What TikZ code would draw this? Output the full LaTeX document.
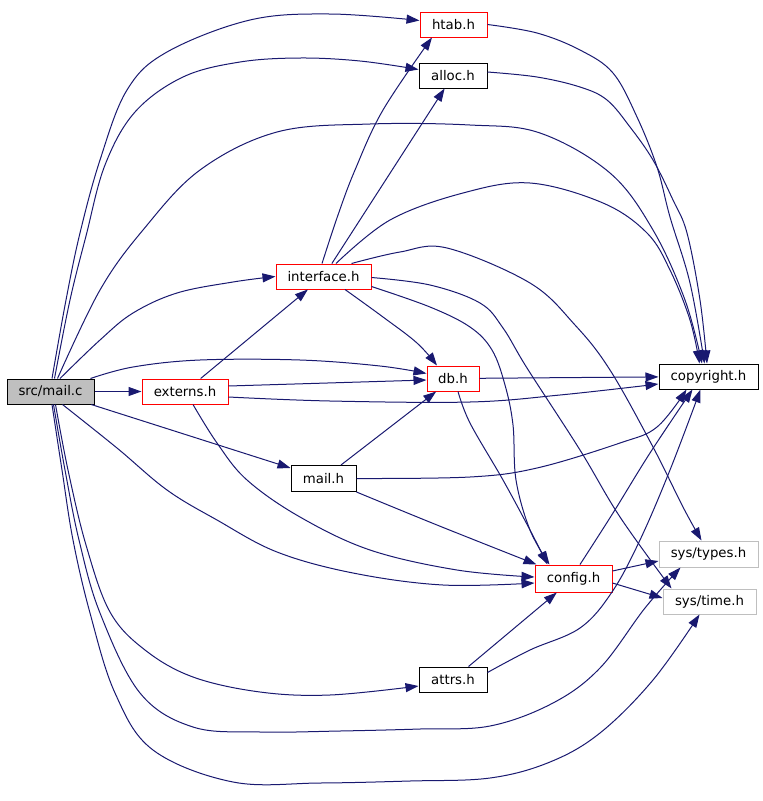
\documentclass[tikz,border=0pt]{standalone}
\usepackage{fontspec}
\setmainfont{DejaVu Sans}
\usetikzlibrary{arrows.meta}
\definecolor{edgecol}{HTML}{191970}
\definecolor{graycol}{HTML}{BFBFBF}
\begin{document}
\begin{tikzpicture}[x=1pt,y=-1pt,
  box/.style={draw=black, line width=1pt, rectangle, inner sep=0pt, minimum height=25pt, fill=white, font=\fontsize{13.3}{16}\selectfont},
  redbox/.style={box, draw=red},
  graybox/.style={box, draw=graycol},
  edge/.style={draw=edgecol, line width=1pt, -{Triangle[length=13pt,width=9pt]}},
  sm/.style={smooth, tension=0.6}]
\useasboundingbox (0,0) rectangle (763,801);
% nodes
\node[box, fill=graycol, minimum width=87pt] (mailc) at (50.5,391.5) {src/mail.c};
\node[redbox, minimum width=86pt] (externs) at (185,391.5) {externs.h};
\node[redbox, minimum width=67pt] (htab) at (453.5,24.5) {htab.h};
\node[box, minimum width=68pt] (alloc) at (453,75.5) {alloc.h};
\node[redbox, minimum width=95pt] (interface) at (323.5,276.5) {interface.h};
\node[redbox, minimum width=52pt] (db) at (453,378.5) {db.h};
\node[box, minimum width=99pt] (copyright) at (708.5,376.5) {copyright.h};
\node[graybox, minimum width=99pt, minimum height=26pt] (types) at (708.5,554) {sys/types.h};
\node[graybox, minimum width=93pt] (time) at (709.5,601.5) {sys/time.h};
\node[box, minimum width=65pt, minimum height=26pt] (mailh) at (323.5,478.5) {mail.h};
\node[redbox, minimum width=77pt, minimum height=27pt] (config) at (573.5,578.5) {config.h};
\node[box, minimum width=68pt] (attrs) at (453,679.5) {attrs.h};
% edges from src/mail.c
\draw[edge] plot[sm] coordinates {([xshift=1.5pt]mailc.north) (66,300) (80,233) (100,160) (127,90) (167,52) (250,20) (330,14) ([yshift=4pt]htab.west)};
\draw[edge] plot[sm] coordinates {([xshift=4pt]mailc.north) (70,300) (86,236) (105,165) (135,112) (183,77) (240,62) (300,58) (360,61) ([yshift=6pt]alloc.west)};
\draw[edge] plot[sm] coordinates {([xshift=7pt]mailc.north) (100,290) (143,230) (200,170) (277,132) (370,124) (470,125) (540,133) (610,173) (653,230) (685,300) ([xshift=-6.5pt]copyright.north)};
\draw[edge] plot[sm] coordinates {([xshift=9.5pt]mailc.north) (100,340) (133,313) (177,293) (233,282) (interface.west)};
\draw[edge] plot[sm] coordinates {([xshift=-4pt]mailc.north east) (133,367) (200,360) (300,360) (380,366) ([yshift=5pt]db.west)};
\draw[edge] (mailc) -- (externs);
\draw[edge] (mailc) -- (mailh);
\draw[edge] plot[sm] coordinates {([xshift=12pt]mailc.south) (117,448) (167,490) (217,520) (277,552) (353,573) (443,585) ([yshift=-4.5pt]config.west)};
\draw[edge] plot[sm] coordinates {([xshift=5pt]mailc.south) (68,470) (86,545) (110,612) (145,650) (193,677) (260,692) (330,695) ([yshift=-6.5pt]attrs.west)};
\draw[edge] plot[sm] coordinates {([xshift=3pt]mailc.south) (65,470) (79,540) (100,613) (140,693) (193,727) (260,732) (340,731) (420,729) (490,726) (553,703) (600,668) (645,608) ([xshift=-28pt]types.south)};
\draw[edge] plot[sm] coordinates {([xshift=1.5pt]mailc.south) (62,470) (73,540) (90,613) (115,693) (153,750) (233,782) (320,783) (410,781) (490,778) (550,762) (600,733) (653,680) ([xshift=-10pt]time.south)};
% edges from externs.h
\draw[edge] (externs) -- (interface);
\draw[edge] ([yshift=5.5pt]externs.east) -- ([yshift=-1.5pt]db.west);
\draw[edge] plot[sm] coordinates {([yshift=-5.5pt]externs.east) (330,401) (470,402) (560,395) ([yshift=-7.5pt]copyright.west)};
\draw[edge] plot[sm] coordinates {([xshift=8pt]externs.south) (217,443) (247,480) (300,517) (370,550) (457,570) ([yshift=1.5pt]config.west)};
% edges from interface.h
\draw[edge] plot[sm] coordinates {([xshift=-1.5pt]interface.north) (338,215) (355,170) (383,110) ([xshift=-21.5pt]htab.south)};
\draw[edge] (interface) -- (alloc);
\draw[edge] plot[sm] coordinates {([xshift=12.5pt]interface.north) (390,220) (463,193) (530,183) (603,203) (647,233) (670,270) (690,320) ([xshift=-9pt]copyright.north)};
\draw[edge] plot[sm] coordinates {([xshift=21.5pt]interface.south) (383,317) (417,343) ([xshift=-16pt]db.north)};
\draw[edge] plot[sm] coordinates {([yshift=-10pt]interface.east) (430,307) (470,327) (492,350) (505,385) (513,425) (516,480) (530,530) ([xshift=-24pt]config.north)};
\draw[edge] plot[sm] coordinates {([xshift=28pt]interface.north) (400,252) (447,248) (530,283) (575,325) (610,370) (653,447) (683,507) ([xshift=-7pt]types.north)};
\draw[edge] plot[sm] coordinates {([yshift=-1pt]interface.east) (430,285) (480,303) (503,328) (527,368) (580,450) (620,517) ([xshift=9pt]time.north west)};
% edges from db.h
\draw[edge] (db) -- (copyright);
\draw[edge] plot[sm] coordinates {([xshift=5pt]db.south) (470,423) (503,480) (530,530) ([xshift=-26pt]config.north)};
% edges from mail.h
\draw[edge] (mailh) -- (db);
\draw[edge] plot[sm] coordinates {(mailh.east) (470,477) (537,468) (620,443) (657,427) ([xshift=-22pt]copyright.south)};
\draw[edge] plot[sm] coordinates {(mailh.south east) (437,525) ([xshift=-37pt]config.north)};
% edges from config.h
\draw[edge] plot[sm] coordinates {([xshift=6.5pt]config.north) (613,513) (650,453) ([xshift=-16pt]copyright.south)};
\draw[edge] ([yshift=7.5pt]config.east) -- ([yshift=-7pt]types.west);
\draw[edge] ([yshift=-4.5pt]config.east) -- ([yshift=3.5pt]time.west);
% edges from attrs.h
\draw[edge] (attrs) -- (config);
\draw[edge] plot[sm] coordinates {([yshift=7pt]attrs.east) (530,650) (580,628) (612,592) (640,540) (670,470) ([xshift=-8pt]copyright.south)};
% edges from htab.h and alloc.h
\draw[edge] plot[sm] coordinates {(htab.east) (537,33) (580,50) (613,73) (637,117) (657,167) (670,217) (690,283) ([xshift=-4pt]copyright.north)};
\draw[edge] plot[sm] coordinates {([yshift=3.5pt]alloc.east) (537,77) (580,87) (607,100) (630,127) (653,160) (673,200) (687,233) (700,300) ([xshift=-1.5pt]copyright.north)};
\end{tikzpicture}
\end{document}
